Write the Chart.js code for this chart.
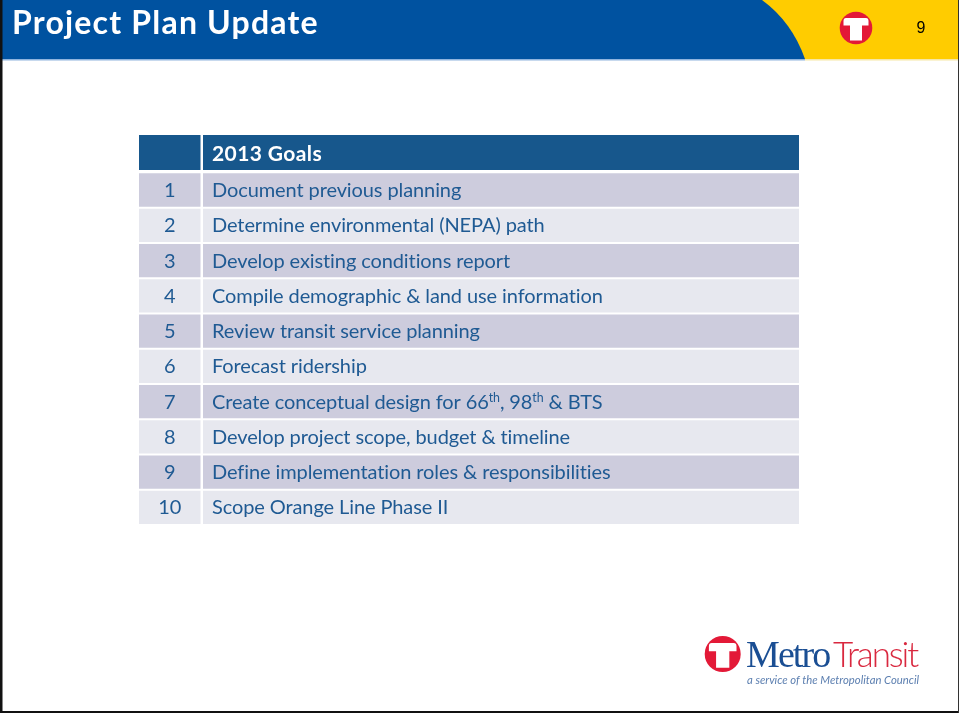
<!DOCTYPE html>
<html>
<head>
<meta charset="utf-8">
<style>html,body{margin:0;padding:0;background:#fff;overflow:hidden}#wrap{position:relative;width:959px;height:713px}</style>
<script src="https://cdn.jsdelivr.net/npm/chart.js@4"></script>
</head>
<body>
<div id="wrap"><canvas id="c" width="959" height="713"></canvas></div>
<script>
const titleText = "Project Plan Update";
const pageNumber = "9";
const headerLabel = "2013 Goals";
const rowNumbers = ["1","2","3","4","5","6","7","8","9","10"];
const goals = [
  "Document previous planning",
  "Determine environmental (NEPA) path",
  "Develop existing conditions report",
  "Compile demographic & land use information",
  "Review transit service planning",
  "Forecast ridership",
  "Create conceptual design for 66^th, 98^th & BTS",
  "Develop project scope, budget & timeline",
  "Define implementation roles & responsibilities",
  "Scope Orange Line Phase II"
];
const numberColumn = [0, 61.5];
const goalColumn = [64, 660];

const BLUE = "#17578C", ODD = "#CDCCDD", EVEN = "#E7E8EF", INK = "#1F5A93";
const FONT = "Lato, Carlito, sans-serif";
const categories = [""].concat(rowNumbers);
const rowColors = [BLUE].concat(rowNumbers.map((_, i) => i % 2 ? EVEN : ODD));

function tLogo(ctx, cx, cy, r) {
  ctx.fillStyle = "#E31937";
  ctx.beginPath(); ctx.arc(cx, cy, r, 0, Math.PI * 2); ctx.fill();
  ctx.fillStyle = "#fff";
  const u = r / 16.3;
  ctx.beginPath();
  ctx.moveTo(cx - 10 * u, cy - 10 * u);
  ctx.lineTo(cx + 10 * u, cy - 10 * u);
  ctx.quadraticCurveTo(cx + 12.5 * u, cy - 10 * u, cx + 12.5 * u, cy - 7 * u);
  ctx.lineTo(cx + 12.5 * u, cy - 2.5 * u);
  ctx.lineTo(cx + 6 * u, cy - 2.5 * u);
  ctx.lineTo(cx + 6 * u, cy + 12.5 * u);
  ctx.lineTo(cx - 6 * u, cy + 12.5 * u);
  ctx.lineTo(cx - 6 * u, cy - 2.5 * u);
  ctx.lineTo(cx - 12.5 * u, cy - 2.5 * u);
  ctx.lineTo(cx - 12.5 * u, cy - 7 * u);
  ctx.quadraticCurveTo(cx - 12.5 * u, cy - 10 * u, cx - 10 * u, cy - 10 * u);
  ctx.closePath(); ctx.fill();
}

const pagePlugin = {
  id: "page",
  beforeDraw(chart) {
    const ctx = chart.ctx;
    ctx.save();
    ctx.fillStyle = "#fff"; ctx.fillRect(0, 0, 959, 713);
    // banner
    ctx.fillStyle = "#FFCC00"; ctx.fillRect(0, 0, 959, 59);
    ctx.fillStyle = "#0052A0";
    ctx.beginPath();
    ctx.moveTo(0, 0); ctx.lineTo(762, 0);
    ctx.quadraticCurveTo(792, 22, 805, 59);
    ctx.lineTo(0, 59); ctx.closePath(); ctx.fill();
    ctx.fillStyle = "#8FB4DE"; ctx.fillRect(0, 59, 805, 1.5);
    ctx.fillStyle = "#F6E7A6"; ctx.fillRect(805, 59, 154, 1.5);
    // frame
    ctx.fillStyle = "#111"; ctx.fillRect(0, 0, 2.5, 713); ctx.fillRect(0, 711, 959, 2);
    ctx.fillStyle = "#333"; ctx.fillRect(958, 0, 1, 713);
    // title
    ctx.textBaseline = "alphabetic"; ctx.textAlign = "left";
    ctx.fillStyle = "#fff"; ctx.font = "bold 32px " + FONT; ctx.letterSpacing = "1.2px";
    ctx.fillText(titleText, 12, 34);
    ctx.letterSpacing = "0px";
    ctx.fillStyle = "#000"; ctx.font = "16px 'Liberation Sans', Arial, sans-serif";
    ctx.textAlign = "center"; ctx.fillText(pageNumber, 921, 33);
    tLogo(ctx, 856, 28, 16.3);
    // footer logo
    tLogo(ctx, 722.7, 654, 18);
    ctx.textAlign = "left";
    ctx.font = "38px 'Liberation Serif', serif";
    ctx.fillStyle = "#1A4E93"; ctx.letterSpacing = "-1.9px";
    ctx.fillText("Metro", 746, 667);
    ctx.fillStyle = "#D9283F"; ctx.font = "300 35px Lato, sans-serif"; ctx.letterSpacing = "-2.1px";
    ctx.fillText("Transit", 833, 667);
    ctx.letterSpacing = "0px";
    ctx.font = "italic 11.3px Lato, sans-serif"; ctx.fillStyle = "#5C7FB0";
    ctx.fillText("a service of the Metropolitan Council", 747, 684);
    ctx.restore();
  },
  beforeDatasetsDraw(chart) {
    chart.data.datasets.forEach((_, d) => {
      const bar = chart.getDatasetMeta(d).data[0];
      bar.y = chart.scales.y.getPixelForValue(0) - 2.2;
      bar.height = 35;
    });
  },
  afterDatasetsDraw(chart) {
    const ctx = chart.ctx, xs = chart.scales.x, ys = chart.scales.y;
    ctx.save();
    ctx.textBaseline = "alphabetic";
    const yHead = chart.getDatasetMeta(0).data[0].y;
    ctx.fillStyle = "#fff"; ctx.font = "bold 21px " + FONT; ctx.textAlign = "left"; ctx.letterSpacing = "0.4px";
    const goalX = xs.getPixelForValue(goalColumn[0]) + 9;
    ctx.fillText(headerLabel, goalX, yHead + 8);
    const numX = xs.getPixelForValue((numberColumn[0] + numberColumn[1]) / 2);
    const size = 20;
    rowNumbers.forEach((n, i) => {
      const y = ys.getPixelForValue(i + 1) + 7;
      ctx.fillStyle = INK; ctx.font = size + "px " + FONT; ctx.textAlign = "center"; ctx.letterSpacing = "-0.1px";
      ctx.fillText(n, numX, y);
      ctx.textAlign = "left";
      let x = goalX;
      goals[i].split(/\^(\w+)/).forEach((part, k) => {
        const sup = k % 2 === 1;
        ctx.font = (sup ? size * 0.62 : size) + "px " + FONT;
        ctx.fillText(part, x, sup ? y - 7 : y);
        x += ctx.measureText(part).width;
      });
    });
    ctx.restore();
  }
};

new Chart(document.getElementById("c"), {
  type: "bar",
  data: {
    labels: categories,
    datasets: [
      { label: "No.", data: categories.map(() => numberColumn), backgroundColor: rowColors, grouped: false, clip: false, barPercentage: 1, categoryPercentage: 33.3 / 35.28, borderWidth: 0 },
      { label: "Goal", data: categories.map(() => goalColumn), backgroundColor: rowColors, grouped: false, clip: false, barPercentage: 1, categoryPercentage: 33.3 / 35.28, borderWidth: 0 }
    ]
  },
  options: {
    indexAxis: "y",
    responsive: false,
    animation: false,
    events: [],
    layout: { padding: { left: 139, right: 160, top: 137.1, bottom: 187.9 } },
    scales: {
      x: { display: false, min: 0, max: 660 },
      y: { display: false }
    },
    plugins: { legend: { display: false }, tooltip: { enabled: false }, title: { display: false } }
  },
  plugins: [pagePlugin]
});
</script>
</body>
</html>
